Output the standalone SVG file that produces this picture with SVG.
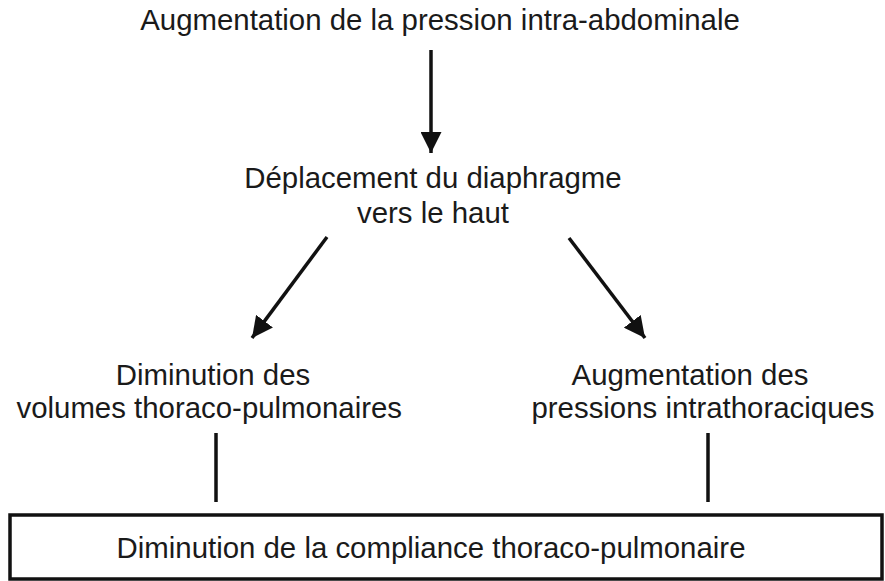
<svg xmlns="http://www.w3.org/2000/svg" width="885" height="581" viewBox="0 0 885 581">
<defs>
<style>
text{font-family:"Liberation Sans",Arial,sans-serif;font-size:29.4px;fill:#1a1a1a}
.c{text-anchor:middle}
.e{text-anchor:end}
.ln{stroke:#111;stroke-width:3.5;fill:none}
</style>
<marker id="ah" viewBox="0 0 10 10" refX="10" refY="5" markerWidth="6" markerHeight="6" markerUnits="strokeWidth" orient="auto">
<path d="M0,0 L10,5 L0,10 z" fill="#111"/>
</marker>
</defs>
<rect width="885" height="581" fill="#fff"/>
<g id="n1"><text class="c" x="440" y="30">Augmentation de la pression intra-abdominale</text></g>
<g id="n2"><text class="c" x="433" y="188">Déplacement du diaphragme</text><text class="c" x="433" y="223">vers le haut</text></g>
<g id="n3"><text class="c" x="213" y="385">Diminution des</text><text class="e" x="402" y="418">volumes thoraco-pulmonaires</text></g>
<g id="n4"><text class="c" x="690" y="385">Augmentation des</text><text class="c" x="703" y="418">pressions intrathoraciques</text></g>
<g id="n5"><rect x="10" y="515" width="872" height="64" fill="none" stroke="#111" stroke-width="3.5"/><text class="c" x="431" y="558">Diminution de la compliance thoraco-pulmonaire</text></g>
<g id="edges">
<line class="ln" x1="431" y1="50" x2="431" y2="153" marker-end="url(#ah)"/>
<line class="ln" x1="327" y1="237" x2="252" y2="338" marker-end="url(#ah)"/>
<line class="ln" x1="569" y1="238" x2="645" y2="338" marker-end="url(#ah)"/>
<line class="ln" x1="216" y1="433" x2="216" y2="502"/>
<line class="ln" x1="708" y1="433" x2="708" y2="502"/>
</g>
</svg>
